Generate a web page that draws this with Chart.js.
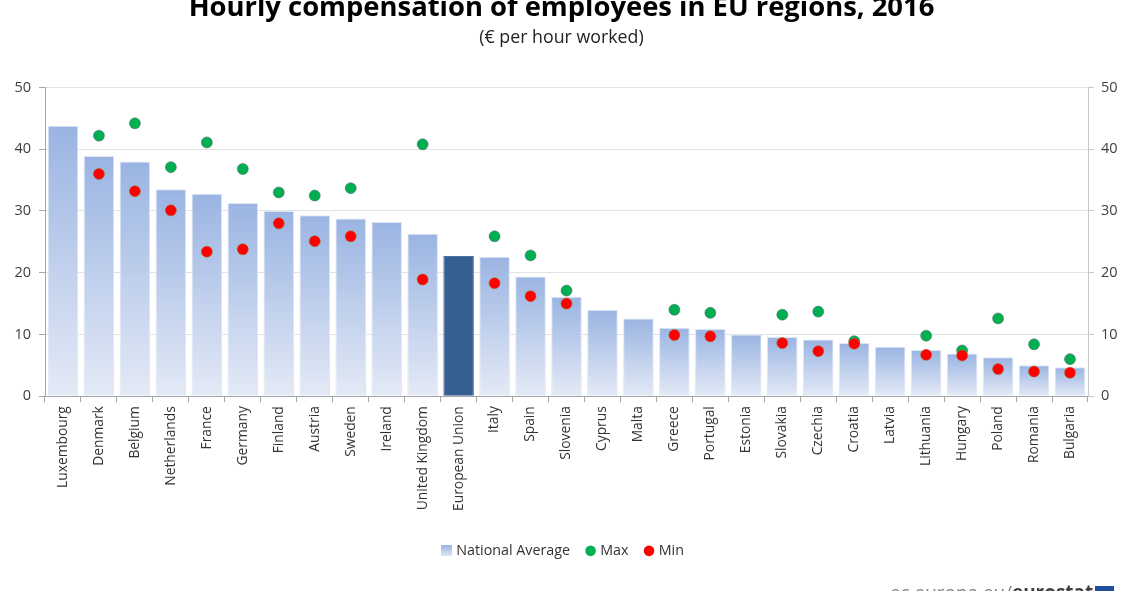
<!DOCTYPE html>
<html>
<head>
<meta charset="utf-8">
<title>Hourly compensation of employees in EU regions, 2016</title>
<script src="https://cdn.jsdelivr.net/npm/chart.js@4"></script>
<style>
  html, body { margin: 0; padding: 0; background: #fff; overflow: hidden; }
  #wrap { position: relative; width: 1128px; height: 591px; overflow: hidden; }
  #wrap div { position: absolute; white-space: nowrap; font-family: "Open Sans", sans-serif; }
  #title { left: 0; width: 1123px; top: -12px; text-align: center; font-size: 27.4px; font-weight: 700; line-height: 36px; color: #000; }
  #subtitle { left: 0; width: 1123px; top: 25px; text-align: center; font-size: 17.8px; line-height: 22px; color: #222; }
  #source { left: 890px; top: 581px; font-size: 18.9px; line-height: 22px; color: #808080; }
  #source b { color: #404040; }
  #flag { left: 1095px; top: 586px; width: 19px; height: 13px; background: #1f4f9c; }
</style>
</head>
<body>
<div id="wrap">
  <canvas id="chart" width="1128" height="591"></canvas>
  <div id="title">Hourly compensation of employees in EU regions, 2016</div>
  <div id="subtitle">(€ per hour worked)</div>
  <div id="source">ec.europa.eu/<b>eurostat</b></div>
  <div id="flag"></div>
</div>
<script>
var countries = ['Luxembourg', 'Denmark', 'Belgium', 'Netherlands', 'France', 'Germany', 'Finland', 'Austria', 'Sweden', 'Ireland',
  'United Kingdom', 'European Union', 'Italy', 'Spain', 'Slovenia', 'Cyprus', 'Malta', 'Greece', 'Portugal', 'Estonia',
  'Slovakia', 'Czechia', 'Croatia', 'Latvia', 'Lithuania', 'Hungary', 'Poland', 'Romania', 'Bulgaria'];
var nationalAverage = [43.8, 38.9, 38.0, 33.5, 32.8, 31.3, 30.0, 29.3, 28.8, 28.2,
  26.3, 22.7, 22.6, 19.4, 16.1, 14.0, 12.6, 11.1, 10.9, 10.0,
  9.6, 9.2, 8.6, 8.0, 7.5, 6.9, 6.3, 5.0, 4.7];
var maxValues = [null, 42.2, 44.2, 37.1, 41.1, 36.8, 33.0, 32.5, 33.7, null,
  40.8, null, 25.9, 22.8, 17.1, null, null, 14.0, 13.5, null,
  13.2, 13.7, 8.9, null, 9.8, 7.4, 12.6, 8.4, 6.0];
var minValues = [null, 36.0, 33.2, 30.1, 23.4, 23.8, 28.0, 25.1, 25.9, null,
  18.9, null, 18.3, 16.2, 15.0, null, null, 9.9, 9.7, null,
  8.6, 7.3, 8.5, null, 6.7, 6.6, 4.4, 4.0, 3.8];
var yTicks = [0, 10, 20, 30, 40, 50];

var TEXT_FONT = '"Open Sans", sans-serif';
var EU_COLOR = '#355f91';

function barFill(context) {
  var chart = context.chart;
  if (context.parsed == null || !chart.scales.y) return '#9db7e3';
  if (countries[context.dataIndex] == 'European Union') return EU_COLOR;
  var top = chart.scales.y.getPixelForValue(context.parsed.y);
  var bottom = chart.scales.y.getPixelForValue(0);
  var grad = chart.ctx.createLinearGradient(0, top, 0, bottom);
  grad.addColorStop(0, '#9ab4e2');
  grad.addColorStop(1, '#e4eaf6');
  return grad;
}

// the legend swatch has the same gradient as the bars
function makeSwatch() {
  var c = document.createElement('canvas');
  c.width = 11;
  c.height = 11;
  var cx = c.getContext('2d');
  var grad = cx.createLinearGradient(0, 0, 0, 11);
  grad.addColorStop(0, '#9ab4e2');
  grad.addColorStop(1, '#e4eaf6');
  cx.fillStyle = grad;
  cx.fillRect(0, 0, 11, 11);
  return c;
}
var swatch = makeSwatch();

function legendLabels(chart) {
  return [
    { text: 'National Average', fillStyle: '#9ab4e2', strokeStyle: '#9ab4e2', lineWidth: 0, pointStyle: swatch, datasetIndex: 0, fontColor: '#333333' },
    { text: 'Max', fillStyle: '#00b050', strokeStyle: '#00b050', lineWidth: 0, pointStyle: 'circle', datasetIndex: 1, fontColor: '#333333' },
    { text: 'Min', fillStyle: '#ff0000', strokeStyle: '#ff0000', lineWidth: 0, pointStyle: 'circle', datasetIndex: 2, fontColor: '#333333' }
  ];
}

new Chart(document.getElementById('chart'), {
  data: {
    labels: countries,
    datasets: [{
      type: 'bar',
      label: 'National Average',
      data: nationalAverage,
      order: 3,
      backgroundColor: barFill,
      borderColor: function(context) {
        return countries[context.dataIndex] == 'European Union' ? '#4a72a3' : '#dde6f5';
      },
      borderWidth: 1,
      categoryPercentage: 1,
      barPercentage: 0.85
    }, {
      type: 'line',
      label: 'Max',
      data: maxValues,
      order: 2,
      showLine: false,
      pointRadius: 5.5,
      pointBackgroundColor: '#00b050',
      pointBorderColor: 'rgba(90,90,110,0.5)',
      pointBorderWidth: 1
    }, {
      type: 'line',
      label: 'Min',
      data: minValues,
      order: 1,
      showLine: false,
      pointRadius: 5.5,
      pointBackgroundColor: '#ff0000',
      pointBorderColor: 'rgba(150,110,30,0.5)',
      pointBorderWidth: 1
    }]
  },
  options: {
    responsive: false,
    animation: false,
    layout: { padding: { top: 87.5, bottom: 23 } },
    plugins: {
      title: { display: false },
      tooltip: { enabled: false },
      legend: {
        position: 'bottom',
        labels: {
          usePointStyle: true,
          boxWidth: 5,
          boxHeight: 7.5,
          padding: 18,
          font: { family: TEXT_FONT, size: 14.3 },
          generateLabels: legendLabels
        }
      }
    },
    scales: {
      x: {
        offset: true,
        afterFit: function(scale) { scale.height = 129.5; },
        border: { color: '#a6a6a6' },
        grid: { offset: true, drawOnChartArea: false, tickLength: 6, tickColor: '#a6a6a6' },
        ticks: {
          autoSkip: false, minRotation: 90, maxRotation: 90, padding: 4,
          color: '#333333',
          font: { family: TEXT_FONT, size: 13.8 }
        }
      },
      y: {
        position: 'left',
        min: 0,
        max: 50,
        afterFit: function(scale) { scale.width = 45; },
        afterBuildTicks: function(scale) {
          scale.ticks = yTicks.map(function(v) { return { value: v }; });
        },
        border: { color: '#a6a6a6' },
        grid: { color: '#e2e2e2', tickLength: 6, tickColor: '#a6a6a6' },
        ticks: { color: '#404040', padding: 8, font: { family: TEXT_FONT, size: 14.5 } }
      },
      y2: {
        display: true,
        position: 'right',
        min: 0,
        max: 50,
        afterFit: function(scale) { scale.width = 40; },
        afterBuildTicks: function(scale) {
          scale.ticks = yTicks.map(function(v) { return { value: v }; });
        },
        border: { color: '#c8c8c8' },
        grid: { drawOnChartArea: false, tickLength: 6, tickColor: '#c8c8c8' },
        ticks: { color: '#404040', padding: 7, font: { family: TEXT_FONT, size: 14.5 } }
      }
    }
  }
});
</script>
</body>
</html>
